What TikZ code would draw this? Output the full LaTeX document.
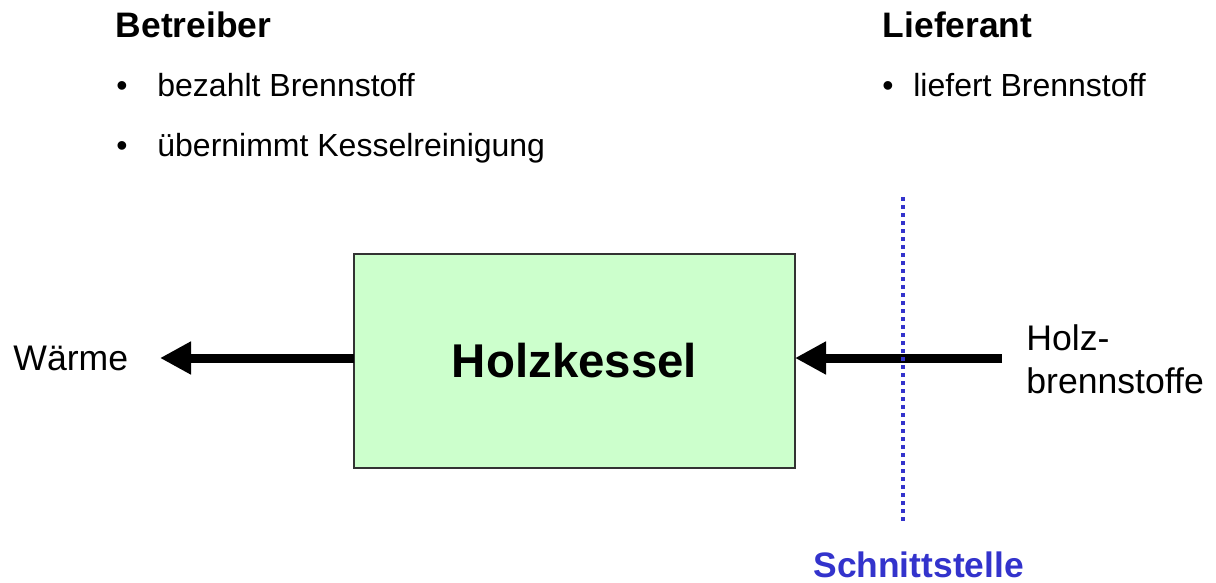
\documentclass[tikz,border=0pt]{standalone}
\usepackage{fontspec}
\setmainfont{Liberation Sans}
\usepackage{tikz}
\usetikzlibrary{arrows.meta, positioning}
\definecolor{kesselgreen}{HTML}{CCFFCC}
\definecolor{kesselborder}{HTML}{333333}
\definecolor{schnittblue}{HTML}{3333CC}
\tikzset{
  flow/.style = {line width=4.5pt, -{Triangle[length=15.5pt, width=15.5pt]}},
  head/.style = {anchor=base west, inner sep=0pt, font=\bfseries\fontsize{17.7}{21}\selectfont},
  bullettext/.style = {anchor=base west, inner sep=0pt, font=\fontsize{16}{19}\selectfont},
  side/.style = {anchor=base west, inner sep=0pt, font=\fontsize{17.8}{21.5}\selectfont}
}

\begin{document}
\begin{tikzpicture}[x=0.5pt, y=-0.5pt]

   \useasboundingbox (0,0) rectangle (1216,583);

   % Operator and supplier headings
   \node[head] (betreiber) at (115.5,38) {Betreiber};
   \node[head] (lieferant) at (882.5,38) {Lieferant};

   % Duties as bullet points
   \node[bullettext] (zahlt) at (116,97) {\makebox[20.5pt][l]{\textbullet}bezahlt Brennstoff};
   \node[bullettext] (reinigt) at (116,156) {\makebox[20.5pt][l]{\textbullet}übernimmt Kesselreinigung};
   \node[bullettext] (liefert) at (882,97) {\makebox[15.5pt][l]{\textbullet}liefert Brennstoff};

   % The boiler
   \node[draw=kesselborder, line width=1pt, fill=kesselgreen, minimum width=220.5pt,
         minimum height=107pt, inner sep=0pt, outer sep=0pt,
         font=\bfseries\fontsize{23.7}{28}\selectfont] (kessel) at (574.5,360.5) {Holzkessel};

   % Output and input labels
   \node[side] (waerme) at (13,370) {Wärme};
   \node[side, align=left] (holz) at (1026,393) {Holz-\\brennstoffe};

   % Free ends of the arrows
   \coordinate (heatend) at (160,358);
   \coordinate (fuelstart) at (1002,358);

   % Arrows
   \draw[flow] (heatend -| kessel.west) -- (heatend);
   \draw[flow] (fuelstart) -- (fuelstart -| kessel.east);

   % Interface line
   \coordinate (cuttop) at (903,197);
   \coordinate (cutbot) at (903,522);
   \draw[schnittblue, line width=2pt, dash pattern=on 2pt off 2pt] (cuttop) -- (cutbot);
   \node[head, text=schnittblue] (schnitt) at (813,577) {Schnittstelle};

\end{tikzpicture}
\end{document}
